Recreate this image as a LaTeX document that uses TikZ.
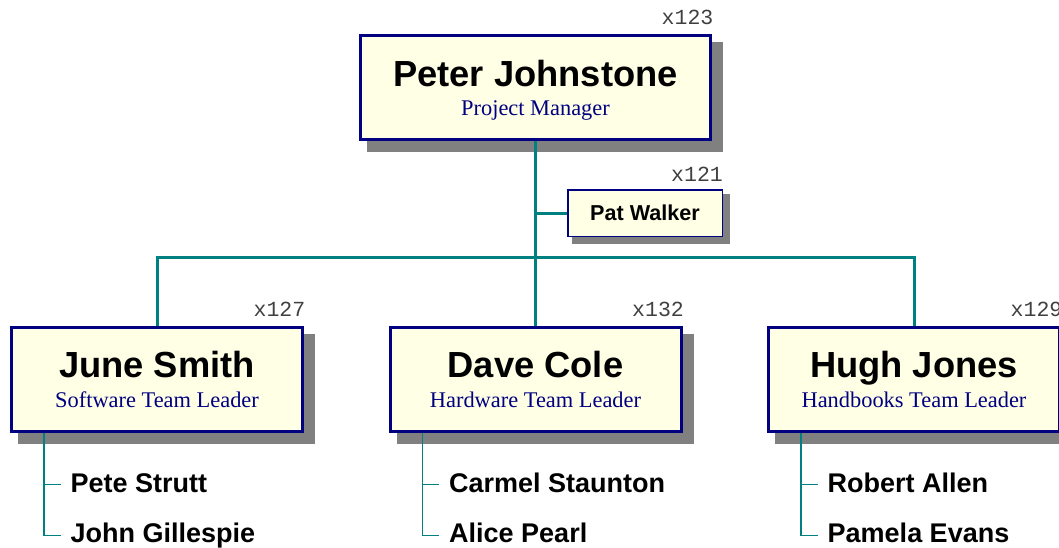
\documentclass[tikz,border=0pt]{standalone}
\usepackage{fontspec}
\setmainfont{Liberation Sans}
\newfontfamily\titlefont{Liberation Serif}
\newfontfamily\codefont{Liberation Mono}
\definecolor{boxfill}{RGB}{255,255,230}
\definecolor{boxnavy}{RGB}{0,0,128}
\definecolor{lineteal}{RGB}{0,128,128}
\definecolor{shadowgray}{RGB}{128,128,128}
\definecolor{codegray}{RGB}{64,64,64}
\pgfdeclarelayer{shadowlayer}
\pgfdeclarelayer{linelayer}
\pgfsetlayers{shadowlayer,linelayer,main}
\begin{document}
\begin{tikzpicture}[x=1pt,y=-1pt,
  bigbox/.style={draw=boxnavy, line width=3pt, fill=boxfill, minimum width=291pt, minimum height=104pt, inner sep=0pt},
  smallbox/.style={draw=boxnavy, line width=1.5pt, fill=boxfill, minimum width=154.5pt, minimum height=46.5pt, inner sep=0pt},
  bigname/.style={anchor=base, inner sep=0pt, font=\fontsize{36.3}{40}\selectfont\bfseries},
  roletitle/.style={anchor=base, inner sep=0pt, text=boxnavy, font=\titlefont\fontsize{22.4}{24}\selectfont},
  codelabel/.style={anchor=base east, inner sep=0pt, text=codegray, font=\codefont\fontsize{21.5}{22}\selectfont},
  subname/.style={anchor=base west, inner sep=0pt, font=\fontsize{27}{30}\selectfont\bfseries},
  patname/.style={anchor=base, inner sep=0pt, font=\fontsize{21.6}{24}\selectfont\bfseries},
  mainline/.style={draw=lineteal, line width=3pt},
  subline/.style={draw=lineteal, line width=1.6pt},
  shadowfill/.style={fill=shadowgray}
]
\useasboundingbox (0,0) rectangle (1059,547);

% boxes
\node[bigbox, minimum width=350pt] (P) at (535.5,87.5) {};
\node[smallbox] (W) at (645,213) {};
\node[bigbox] (J) at (157,379.5) {};
\node[bigbox] (D) at (535.5,379.5) {};
\node[bigbox] (H) at (914,379.5) {};

% texts in boxes
\node[bigname] (Pn) at ([shift={(0,52)}]P.north) {Peter Johnstone};
\node[roletitle] (Pt) at ([shift={(0,81)}]P.north) {Project Manager};
\node[patname] (Wn) at ([shift={(0,7)}]W.center) {Pat Walker};
\node[bigname] (Jn) at ([shift={(0,51.5)}]J.north) {June Smith};
\node[roletitle] (Jt) at ([shift={(0,81)}]J.north) {Software Team Leader};
\node[bigname] (Dn) at ([shift={(0,51.5)}]D.north) {Dave Cole};
\node[roletitle] (Dt) at ([shift={(0,81)}]D.north) {Hardware Team Leader};
\node[bigname] (Hn) at ([shift={(0,51.5)}]H.north) {Hugh Jones};
\node[roletitle] (Ht) at ([shift={(0,81)}]H.north) {Handbooks Team Leader};

% code labels
\node[codelabel] (Pc) at ([shift={(1.5,-9.5)}]P.north east) {x123};
\node[codelabel] (Wc) at ([shift={(0,-7.5)}]W.north east) {x121};
\node[codelabel] (Jc) at ([shift={(1.5,-10)}]J.north east) {x127};
\node[codelabel] (Dc) at ([shift={(1.5,-10)}]D.north east) {x132};
\node[codelabel] (Hc) at ([shift={(1.5,-10)}]H.north east) {x129};

% sub names
\node[subname] (ps) at ([shift={(-86.5,59.5)}]J.south) {Pete Strutt};
\node[subname] (jg) at ([shift={(-86.5,109.5)}]J.south) {John Gillespie};
\node[subname] (cs) at ([shift={(-86.5,59.5)}]D.south) {Carmel Staunton};
\node[subname] (ap) at ([shift={(-86.5,109.5)}]D.south) {Alice Pearl};
\node[subname] (ra) at ([shift={(-86.5,59.5)}]H.south) {Robert Allen};
\node[subname] (pe) at ([shift={(-86.5,109.5)}]H.south) {Pamela Evans};

% shadows
\begin{pgfonlayer}{shadowlayer}
  \foreach \b in {P,J,D,H}{
    \fill[shadowfill] ([shift={(8,8)}]\b.north west) rectangle ([shift={(11,11)}]\b.south east);
  }
  \fill[shadowfill] ([shift={(5,5)}]W.north west) rectangle ([shift={(6.5,6.5)}]W.south east);
\end{pgfonlayer}

% connectors
\begin{pgfonlayer}{linelayer}
  \coordinate (bar) at (535.5,257.5);
  \draw[mainline] (P.south) -- (D.north);
  \draw[mainline] (P.south |- W.west) -- (W.west);
  \draw[mainline] (J.north) |- (bar) -| (H.north);
  \foreach \b/\first/\second in {J/ps/jg, D/cs/ap, H/ra/pe}{
    \coordinate (\b x) at ([xshift=-113pt]\b.south);
    \coordinate (\first T) at ([shift={(-10,-8.2)}]\first.base west);
    \coordinate (\second T) at ([shift={(-10,-7.2)}]\second.base west);
    \draw[subline] (\b x) |- (\second T);
    \draw[subline] (\b x |- \first T) -- (\first T);
  }
\end{pgfonlayer}
\end{tikzpicture}
\end{document}
